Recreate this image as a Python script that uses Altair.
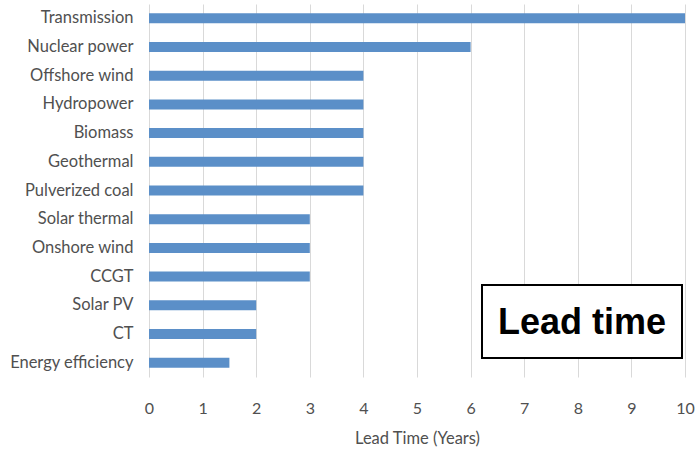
import altair as alt
import pandas as pd

categories = ["Transmission", "Nuclear power", "Offshore wind", "Hydropower", "Biomass",
              "Geothermal", "Pulverized coal", "Solar thermal", "Onshore wind", "CCGT",
              "Solar PV", "CT", "Energy efficiency"]
lead_years = [10, 6, 4, 4, 4, 4, 4, 3, 3, 3, 2, 2, 1.5]
x_ticks = list(range(0, 11))
box_label = ["Lead time"]

df = pd.DataFrame({"tech": categories, "years": lead_years})
FONT = "Lato"

bars = alt.Chart(df).mark_bar(color="#5B8FC8", size=10).encode(
    y=alt.Y("tech:N", sort=categories, title=None,
            axis=alt.Axis(labelFont=FONT, labelFontSize=16.5, labelColor="#505050",
                          ticks=False, domain=False, labelPadding=16, grid=False)),
    x=alt.X("years:Q", title="Lead Time (Years)",
            scale=alt.Scale(domain=[0, 10], nice=False),
            axis=alt.Axis(values=x_ticks, labelFont=FONT, labelFontSize=16,
                          labelColor="#505050", ticks=False, domain=False,
                          labelFlush=False,
                          labelPadding=23, gridColor="#D9D9D9", gridWidth=1,
                          titleFont=FONT, titleFontSize=16.5, titleColor="#505050",
                          titleFontWeight="normal", titlePadding=14)),
)

box_df = pd.DataFrame({"label": box_label})
box = alt.Chart(box_df).mark_rect(fill="white", stroke="black", strokeWidth=2).encode(
    x=alt.value(333), x2=alt.value(533), y=alt.value(281), y2=alt.value(354)
)
box_text = alt.Chart(box_df).mark_text(font="Liberation Sans", fontSize=36,
                                       fontWeight="bold", color="black",
                                       align="center", baseline="middle").encode(
    text="label:N", x=alt.value(433), y=alt.value(319)
)

chart = (bars + box + box_text).properties(
    width=536, height=373,
    autosize=alt.AutoSizeParams(type="none"),
    padding={"left": 149, "top": 4, "right": 11, "bottom": 80},
).configure_view(stroke=None)

chart.save("out.html", embed_options={"renderer": "svg", "actions": False})
